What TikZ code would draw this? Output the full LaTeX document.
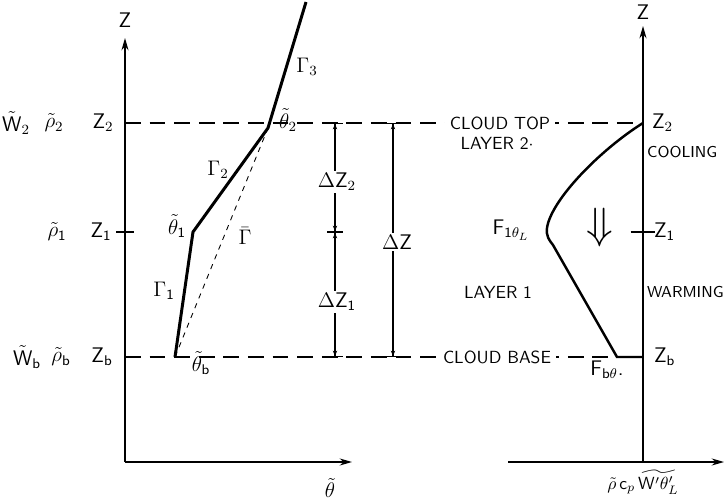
\documentclass[tikz,border=0pt]{standalone}
\usepackage{amsmath}
\usepackage{amssymb}
\usepackage{tikz}
\usetikzlibrary{arrows.meta,positioning}

\begin{document}
\begin{tikzpicture}[x=0.02cm, y=-0.02cm,
    axis/.style={-{Stealth[length=7pt,width=4pt]}, line width=0.9pt},
    profile/.style={line width=1.7pt},
    level/.style={dash pattern=on 9pt off 5pt, line width=0.6pt},
    dimline/.style={line width=0.6pt, {Bar[width=9pt]Stealth[length=3pt,width=2.5pt]}-{Stealth[length=3pt,width=2.5pt]Bar[width=9pt]}},
    lbl/.style={font=\large\sffamily, inner sep=1pt},
    tag/.style={font=\sffamily, fill=white, inner sep=3pt},
    sidelabel/.style={font=\small\sffamily, anchor=west, inner sep=1pt}
]
    \useasboundingbox (0,0) rectangle (727,503);

    % Left diagram: potential temperature profile
    \coordinate (o1) at (125,462);
    \coordinate (t1) at (125,38);
    \coordinate (e1) at (352,462);
    \draw[axis] (o1) -- (t1);
    \draw[axis] (o1) -- (e1);
    \node[lbl] (zax1) at (125,20) {$\mathsf{Z}$};
    \node[lbl] (thax) at (330,488) {$\tilde{\theta}$};

    % Right diagram: heat flux profile
    \coordinate (o2) at (643,462);
    \coordinate (t2) at (643,26);
    \coordinate (s2) at (508,462);
    \coordinate (e2) at (724,462);
    \draw[axis] (o2) -- (t2);
    \draw[axis] (s2) -- (e2);
    \node[lbl] (zax2) at (643,12) {$\mathsf{Z}$};
    \node[font=\sffamily, anchor=north, inner sep=1pt] (flax) at (643,468)
        {$\tilde{\rho}\,\mathsf{c}_p\,\widetilde{\mathsf{W}'\theta'_L}$};

    % Cloud top and cloud base levels
    \coordinate (z2l) at (125,123);
    \coordinate (z2r) at (643,123);
    \coordinate (zbl) at (125,357);
    \coordinate (zbr) at (643,357);
    \draw[level] (z2l) -- (z2r);
    \draw[level] (zbl) -- (zbr);
    \node[tag] (ctop) at (500,123) {CLOUD TOP};
    \node[tag] (cbase) at (497,357) {CLOUD BASE};

    % Z_1 ticks
    \coordinate (z1l) at (125,232);
    \coordinate (z1r) at (643,232);
    \draw[line width=0.6pt] ([xshift=-5]z1l) -- ([xshift=5]z1l);
    \draw[line width=0.6pt] ([xshift=-7]z1r) -- ([xshift=7]z1r);

    % Left labels
    \node[lbl] (w2) at (16,123) {$\tilde{\mathsf{W}}_2$};
    \node[lbl] (rho2) at (54,123) {$\tilde{\rho}_2$};
    \node[lbl] (z2) at (103,123) {$\mathsf{Z}_2$};
    \node[lbl] (rho1) at (57,232) {$\tilde{\rho}_{\mathsf{1}}$};
    \node[lbl] (z1) at (101,232) {$\mathsf{Z}_{\mathsf{1}}$};
    \node[lbl] (wb) at (27,357) {$\tilde{\mathsf{W}}_{\mathsf{b}}$};
    \node[lbl] (rhob) at (61,357) {$\tilde{\rho}_{\mathsf{b}}$};
    \node[lbl] (zb) at (102,357) {$\mathsf{Z}_{\mathsf{b}}$};

    % Theta profile
    \coordinate (thb) at (175,357);
    \coordinate (th1) at (193,232);
    \coordinate (th2) at (268,128);
    \coordinate (thtop) at (306,2);
    \draw[profile] (thb) -- (th1) -- (th2) -- (thtop);
    \draw[dashed, line width=0.5pt] (thb) -- (th2);
    \node[lbl] (lth2) at (288,120) {$\tilde{\theta}_2$};
    \node[lbl] (lth1) at (177,226) {$\tilde{\theta}_{\mathsf{1}}$};
    \node[lbl] (lthb) at (201,363) {$\tilde{\theta}_{\mathsf{b}}$};
    \node[lbl] (g3) at (307,67) {$\Gamma_3$};
    \node[lbl] (g2) at (218,170) {$\Gamma_2$};
    \node[lbl] (g1) at (164,291) {$\Gamma_{\mathsf{1}}$};
    \node[lbl] (gbar) at (245,236) {$\bar{\Gamma}$};

    % Layer depths
    \coordinate (dztop) at (335,123);
    \coordinate (dzmid) at (335,232);
    \coordinate (dzbot) at (335,357);
    \coordinate (dtop) at (393,123);
    \coordinate (dbot) at (393,357);
    \draw[dimline] (dztop) -- (dzmid);
    \draw[dimline] (dzmid) -- (dzbot);
    \draw[dimline] (dtop) -- (dbot);
    \node[lbl, fill=white] (dz2) at (337,182) {$\Delta\mathsf{Z}_2$};
    \node[lbl, fill=white] (dz1) at (337,302) {$\Delta\mathsf{Z}_{\mathsf{1}}$};
    \node[lbl, fill=white] (dz) at (397,242) {$\Delta\mathsf{Z}$};

    % Layers
    \node[font=\sffamily] (lay2) at (497,143) {LAYER 2$\cdot$};
    \node[font=\sffamily] (lay1) at (498,292) {LAYER 1};

    % Flux profile
    \coordinate (f2) at (643,123);
    \coordinate (fb) at (617,357);
    \draw[profile, line width=1.4pt] (f2) .. controls (600,150) and (551,200) .. (547,228)
        .. controls (546,236) and (549,240) .. (553,245) -- (fb) -- (zbr);
    \node[lbl] (f1lab) at (511,230) {$\mathsf{F}_{\mathsf{1}\theta_L}$};
    \node[lbl] (fblab) at (607,370) {$\mathsf{F}_{\mathsf{b}\theta}$.};
    \node[font=\Huge] (down) at (600,228) {$\Downarrow$};

    % Right labels
    \node[lbl, anchor=west] (rz2) at (650,123) {$\mathsf{Z}_2$};
    \node[lbl, anchor=west] (rz1) at (652,232) {$\mathsf{Z}_{\mathsf{1}}$};
    \node[lbl, anchor=west] (rzb) at (652,357) {$\mathsf{Z}_{\mathsf{b}}$};
    \node[sidelabel] (cool) at (645,152) {COOLING};
    \node[sidelabel] (warm) at (645,292) {WARMING};
\end{tikzpicture}
\end{document}
